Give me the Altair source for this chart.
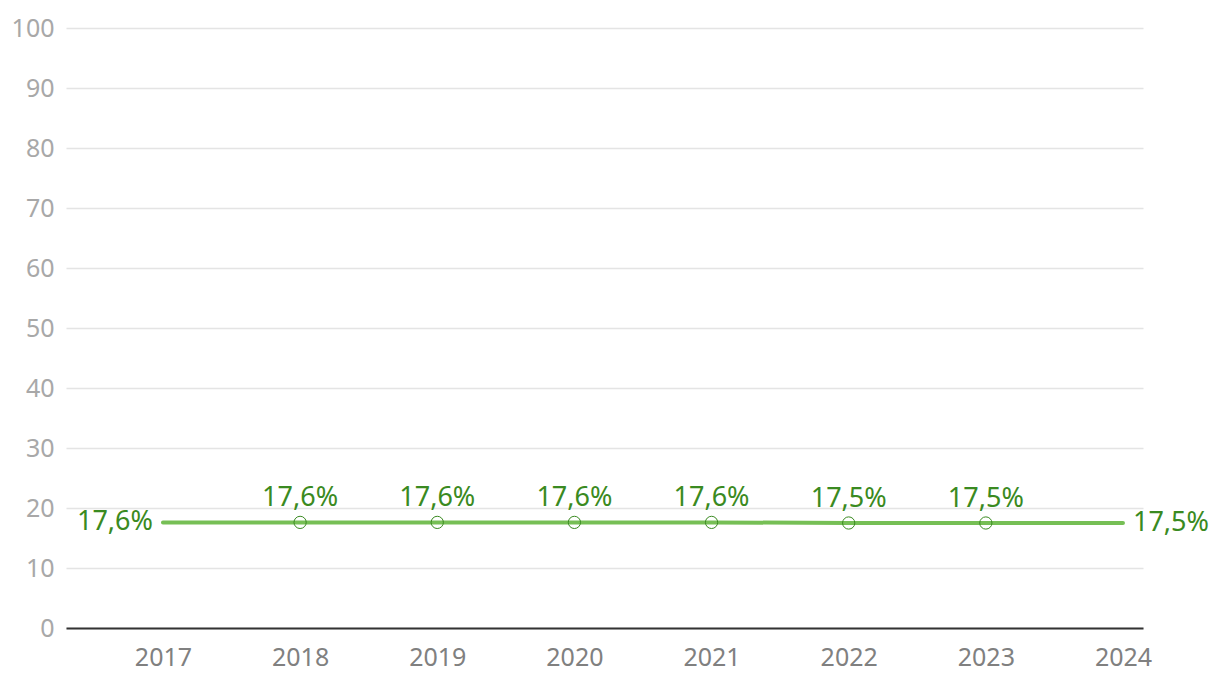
import altair as alt
import pandas as pd

years = [2017, 2018, 2019, 2020, 2021, 2022, 2023, 2024]
values = [17.6, 17.6, 17.6, 17.6, 17.6, 17.5, 17.5, 17.5]
labels = ["17,6%", "17,6%", "17,6%", "17,6%", "17,6%", "17,5%", "17,5%", "17,5%"]
y_ticks = [0, 10, 20, 30, 40, 50, 60, 70, 80, 90, 100]

df = pd.DataFrame({"year": years, "value": values, "label": labels})
df["pos"] = ["left"] + ["mid"] * 6 + ["right"]

FONT = "Noto Sans"
LINE = "#76bf55"
DARK = "#3a8a21"
FS = 27

x = alt.X("year:Q",
          scale=alt.Scale(domain=[2016.293, 2024.146], nice=False, zero=False),
          axis=alt.Axis(values=years, format="d", title=None, grid=False, ticks=False,
                        domain=True, domainColor="#333333", domainWidth=2,
                        labelFont=FONT, labelFontSize=25, labelColor="#808080",
                        labelPadding=17))
y = alt.Y("value:Q",
          scale=alt.Scale(domain=[0, 100], nice=False),
          axis=alt.Axis(values=y_ticks, title=None, domain=False, ticks=False,
                        grid=True, gridColor="#e4e4e4", gridWidth=1.5,
                        labelFont=FONT, labelFontSize=25, labelColor="#a8a8a8",
                        labelPadding=12))

base = alt.Chart(df)

line = base.mark_line(color=LINE, strokeWidth=4, strokeCap="round").encode(x=x, y=y)

points = base.transform_filter("datum.pos == 'mid'").mark_point(
    filled=False, color=DARK, size=150, strokeWidth=1, opacity=1
).encode(x=x, y=y)

mid_text = base.transform_filter("datum.pos == 'mid'").mark_text(
    font=FONT, fontSize=FS, color=DARK, dy=-24, baseline="middle", align="center"
).encode(x=x, y=y, text="label:N")

left_text = base.transform_filter("datum.pos == 'left'").mark_text(
    font=FONT, fontSize=FS, color=DARK, dx=-10, baseline="middle", align="right"
).encode(x=x, y=y, text="label:N")

right_text = base.transform_filter("datum.pos == 'right'").mark_text(
    font=FONT, fontSize=FS, color=DARK, dx=10, baseline="middle", align="left"
).encode(x=x, y=y, text="label:N")

chart = alt.layer(line, points, mid_text, left_text, right_text).properties(
    width=1077, height=600,
    autosize=alt.AutoSizeParams(type="none"),
    padding={"left": 58, "top": 20, "right": 68, "bottom": 52},
).configure_view(stroke=None)

chart.save("out.html", embed_options={"renderer": "svg", "actions": False})
